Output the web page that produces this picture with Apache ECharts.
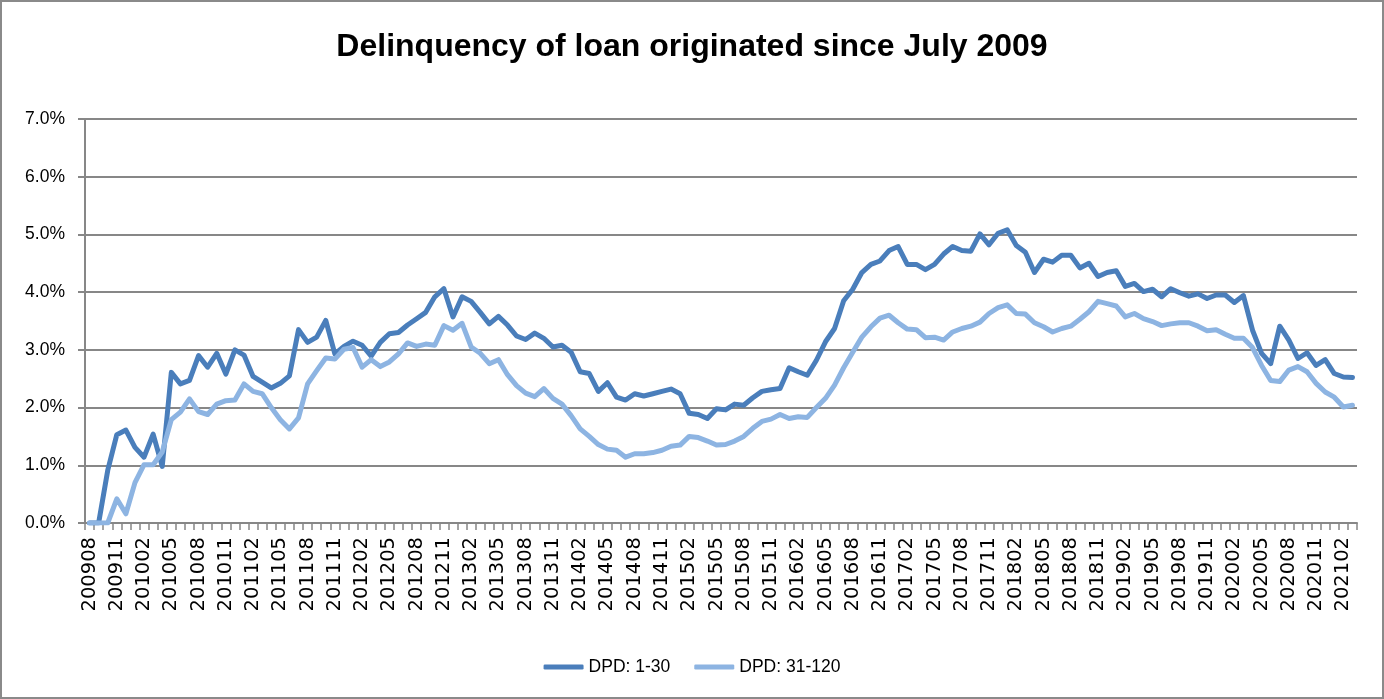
<!DOCTYPE html>
<html>
<head>
<meta charset="utf-8">
<script src="https://cdn.jsdelivr.net/npm/echarts@6/dist/echarts.min.js"></script>
<style>
html,body{margin:0;padding:0;background:#fff;}
#chart{width:1384px;height:699px;box-sizing:border-box;border:2px solid #8a8a8a;}
</style>
</head>
<body>
<div id="chart"></div>
<script>
// Monthly categories 200908 .. 202103
const firstMonth = [2009, 8];
const lastMonth = [2021, 3];
const categories = [];
for (let y = firstMonth[0], m = firstMonth[1]; y < lastMonth[0] || (y === lastMonth[0] && m <= lastMonth[1]); ) {
  categories.push(String(y) + (m < 10 ? '0' + m : String(m)));
  m++; if (m > 12) { m = 1; y++; }
}

const seriesNames = ['DPD: 1-30', 'DPD: 31-120'];

// Delinquency rate, percent
const dpd1to30 = [
  0, 0, 0.91, 1.53, 1.61, 1.31, 1.14, 1.54, 0.98, 2.61,
  2.41, 2.47, 2.90, 2.70, 2.94, 2.58, 3.00, 2.91, 2.54, 2.44,
  2.34, 2.42, 2.55, 3.35, 3.13, 3.22, 3.51, 2.93, 3.06, 3.15,
  3.08, 2.89, 3.13, 3.28, 3.30, 3.43, 3.54, 3.65, 3.92, 4.06,
  3.57, 3.92, 3.84, 3.65, 3.45, 3.58, 3.43, 3.24, 3.18, 3.29,
  3.20, 3.05, 3.08, 2.96, 2.62, 2.59, 2.28, 2.43, 2.18, 2.13,
  2.24, 2.20, 2.24, 2.28, 2.32, 2.24, 1.90, 1.88, 1.81, 1.98,
  1.96, 2.06, 2.04, 2.17, 2.28, 2.31, 2.33, 2.69, 2.62, 2.56,
  2.82, 3.14, 3.37, 3.85, 4.05, 4.34, 4.48, 4.54, 4.72, 4.79,
  4.48, 4.48, 4.39, 4.48, 4.66, 4.79, 4.72, 4.71, 5.01, 4.82,
  5.02, 5.08, 4.81, 4.69, 4.34, 4.57, 4.52, 4.64, 4.64, 4.42,
  4.50, 4.27, 4.34, 4.37, 4.10, 4.15, 4.01, 4.05, 3.92, 4.06,
  3.99, 3.93, 3.97, 3.89, 3.95, 3.95, 3.82, 3.94, 3.34, 2.94,
  2.76, 3.41, 3.17, 2.85, 2.95, 2.73, 2.83, 2.59, 2.53, 2.52
];

const dpd31to120 = [
  0, 0, 0, 0.42, 0.16, 0.70, 1.01, 1.01, 1.23, 1.79,
  1.92, 2.15, 1.93, 1.88, 2.06, 2.12, 2.13, 2.41, 2.28, 2.24,
  2.00, 1.79, 1.63, 1.82, 2.41, 2.64, 2.86, 2.84, 3.01, 3.04,
  2.70, 2.83, 2.71, 2.79, 2.93, 3.12, 3.06, 3.10, 3.08, 3.42,
  3.34, 3.46, 3.05, 2.94, 2.76, 2.83, 2.57, 2.38, 2.25, 2.19,
  2.33, 2.16, 2.06, 1.86, 1.63, 1.50, 1.36, 1.28, 1.26, 1.14,
  1.20, 1.20, 1.22, 1.26, 1.33, 1.35, 1.50, 1.48, 1.42, 1.35,
  1.36, 1.42, 1.50, 1.64, 1.76, 1.80, 1.88, 1.81, 1.84, 1.83,
  2.00, 2.16, 2.39, 2.69, 2.96, 3.22, 3.40, 3.55, 3.60, 3.47,
  3.36, 3.35, 3.21, 3.22, 3.17, 3.31, 3.37, 3.41, 3.48, 3.63,
  3.73, 3.78, 3.63, 3.62, 3.47, 3.40, 3.31, 3.37, 3.41, 3.53,
  3.66, 3.84, 3.80, 3.76, 3.57, 3.63, 3.54, 3.49, 3.42, 3.45,
  3.47, 3.47, 3.41, 3.33, 3.35, 3.27, 3.20, 3.20, 3.04, 2.73,
  2.47, 2.45, 2.65, 2.71, 2.62, 2.42, 2.27, 2.18, 2.01, 2.04
];

const yMin = 0, yMax = 7, yStep = 1;

const axisGray = '#878787';
const chart = echarts.init(document.getElementById('chart'), null, {renderer: 'canvas'});
chart.setOption({
  animation: false,
  backgroundColor: '#fff',
  title: {
    text: 'Delinquency of loan originated since July 2009',
    left: 'center',
    top: 24,
    textStyle: {fontFamily: 'Liberation Sans', fontWeight: 'bold', fontSize: 32, color: '#000'}
  },
  legend: {
    data: seriesNames,
    bottom: 16,
    left: 'center',
    icon: 'roundRect',
    itemWidth: 40,
    itemHeight: 5,
    itemGap: 24,
    textStyle: {fontFamily: 'Liberation Sans', fontSize: 17.5, color: '#000'}
  },
  grid: {left: 83, right: 25, top: 117, bottom: 174, containLabel: false},
  xAxis: {
    type: 'category',
    data: categories,
    boundaryGap: true,
    axisLine: {show: true, lineStyle: {color: axisGray, width: 2}},
    axisTick: {show: true, interval: 0, length: 7, lineStyle: {color: axisGray, width: 1.5}},
    axisLabel: {interval: 2, rotate: 90, margin: 14, fontFamily: 'DejaVu Sans', fontSize: 19.5, color: '#000'},
    splitLine: {show: false}
  },
  yAxis: {
    type: 'value',
    min: yMin, max: yMax, interval: yStep,
    axisLine: {show: true, lineStyle: {color: axisGray, width: 2}},
    axisTick: {show: true, length: 7, lineStyle: {color: axisGray, width: 2}},
    axisLabel: {formatter: v => v.toFixed(1) + '%', margin: 20, fontFamily: 'Liberation Sans', fontSize: 17.5, color: '#000'},
    splitLine: {show: true, lineStyle: {color: axisGray, width: 2}}
  },
  series: [
    {name: seriesNames[0], type: 'line', data: dpd1to30, symbol: 'none', smooth: false,
     lineStyle: {color: '#4A7EBB', width: 5, cap: 'round', join: 'round'}, itemStyle: {color: '#4A7EBB'}},
    {name: seriesNames[1], type: 'line', data: dpd31to120, symbol: 'none', smooth: false,
     lineStyle: {color: '#8DB4E2', width: 5, cap: 'round', join: 'round'}, itemStyle: {color: '#8DB4E2'}}
  ]
});
</script>
</body>
</html>
